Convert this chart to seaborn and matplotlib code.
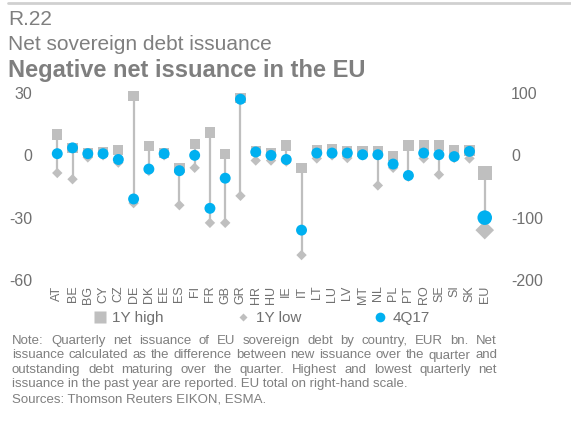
import numpy as np
import pandas as pd
import matplotlib
matplotlib.use("Agg")
import matplotlib.pyplot as plt
import seaborn as sns
from matplotlib.lines import Line2D

# net issuance, EUR bn (EU on right-hand scale)
countries = ["AT", "BE", "BG", "CY", "CZ", "DE", "DK", "EE", "ES", "FI", "FR", "GB", "GR", "HR",
             "HU", "IE", "IT", "LT", "LU", "LV", "MT", "NL", "PL", "PT", "RO", "SE", "SI", "SK"]
high_1y = [10, 3.5, 1, 1.6, 2.5, 28.5, 4.5, 1, -6, 5.6, 11, 0.7, 27.5, 2,
           1.2, 4.8, -6, 2.7, 3, 1.8, 1.8, 1.8, -0.3, 4.7, 4.7, 4.7, 2.3, 2.3]
low_1y = [-8.5, -11.5, -1, 0, -3.5, -23, -7.5, 0, -24, -6, -32.5, -32.5, -19.5, -2.5,
          -2.5, -3, -48, -1.5, 0, -1.3, 0, -14.5, -6, -10.3, -1.5, -9.3, -1.3, -1.5]
q4_17 = [0.8, 3.6, 0.8, 0.8, -2, -21, -6.6, 0.8, -7.4, 0, -25.5, -11, 27, 1.6,
         0, -2, -36, 1.1, 1.1, 1.1, 0.3, 0.3, -4.2, -9.7, 1.1, 0.3, -0.6, 1.9]
eu_label = "EU"
eu_high = -28
eu_low = -120
eu_q4_17 = -100

left_ticks = [-60, -30, 0, 30]
right_ticks = [-200, -100, 0, 100]

GREY = "#bfbfbf"
BLUE = "#00b0f0"
TEXT = "#7f7f7f"
TICK = "#707070"

sns.set_style("white")
plt.rcParams["font.family"] = ["Liberation Sans", "DejaVu Sans"]
plt.rcParams["axes.unicode_minus"] = False

df = pd.DataFrame({"pos": np.arange(len(countries)), "high": high_1y, "low": low_1y, "q417": q4_17})
eu = pd.DataFrame({"pos": [len(countries)], "high": [eu_high], "low": [eu_low], "q417": [eu_q4_17]})

W, H = 571, 421
fig = plt.figure(figsize=(W / 100, H / 100), dpi=100)
ax = fig.add_axes([42 / W, 1 - 280 / H, 458 / W, 187 / H])
ax2 = ax.twinx()

# country markers, left scale
ax.vlines(df["pos"], df["low"], df["high"], color=GREY, lw=1.6, zorder=1)
sns.scatterplot(data=df, x="pos", y="high", marker="s", s=55, color=GREY, edgecolor="none",
                ax=ax, zorder=2, clip_on=False)
sns.scatterplot(data=df, x="pos", y="low", marker="D", s=28, color=GREY, edgecolor="none",
                ax=ax, zorder=2, clip_on=False)
sns.scatterplot(data=df, x="pos", y="q417", marker="o", s=62, color=BLUE, edgecolor="none",
                ax=ax, zorder=3, clip_on=False)

# EU total, right scale
ax2.vlines(eu["pos"], eu["low"], eu["high"], color=GREY, lw=1.6, zorder=1)
sns.scatterplot(data=eu, x="pos", y="high", marker="s", s=100, color=GREY, edgecolor="none", ax=ax2, zorder=2)
sns.scatterplot(data=eu, x="pos", y="low", marker="D", s=90, color=GREY, edgecolor="none", ax=ax2, zorder=2)
sns.scatterplot(data=eu, x="pos", y="q417", marker="o", s=110, color=BLUE, edgecolor="none", ax=ax2, zorder=3)

ax.set_xlim(-1, len(countries) + 1)
ax.set_ylim(-60, 30)
ax2.set_ylim(-200, 100)
ax.set_yticks(left_ticks)
ax2.set_yticks(right_ticks)
ax.set_xticks(list(df["pos"]) + [len(countries)])
ax.set_xticklabels(countries + [eu_label], rotation=90, fontsize=9, color=TICK)
ax.tick_params(axis="y", length=0, pad=7, labelsize=11.5, labelcolor=TICK)
ax.tick_params(axis="x", length=0, pad=4)
ax2.tick_params(axis="y", length=0, pad=8, labelsize=11.5, labelcolor=TICK)
for a in (ax, ax2):
    a.set_xlabel("")
    a.set_ylabel("")
    for sp in a.spines.values():
        sp.set_visible(False)
    a.patch.set_alpha(0)

handles = [
    Line2D([], [], ls="none", marker="s", ms=8, color=GREY, mec="none"),
    Line2D([], [], ls="none", marker="D", ms=4, color=GREY, mec="none"),
    Line2D([], [], ls="none", marker="o", ms=7, color=BLUE, mec="none"),
]
fig.legend(handles, ["1Y high", "1Y low", "4Q17"], loc="center", bbox_to_anchor=(262 / W, 1 - 318 / H),
           ncol=3, frameon=False, fontsize=11, handlelength=0.8, handletextpad=0.4,
           columnspacing=4.8, labelcolor=TICK)

# header
fig.add_artist(Line2D([8 / W, 1], [1 - 3 / H, 1 - 3 / H], color="#d0d0d0", lw=2))
fig.text(8 / W, 1 - 25 / H, "R.22", fontsize=15, color=TEXT, va="baseline")
fig.text(8 / W, 1 - 50 / H, "Net sovereign debt issuance", fontsize=15, color=TEXT, va="baseline")
fig.text(8 / W, 1 - 77 / H, "Negative net issuance in the EU", fontsize=17, fontweight="bold",
         color=TEXT, va="baseline")

# footnote, first three lines justified
notes = [
    "Note: Quarterly net issuance of EU sovereign debt by country, EUR bn. Net",
    "issuance calculated as the difference between new issuance over the quarter and",
    "outstanding debt maturing over the quarter. Highest and lowest quarterly net",
    "issuance in the past year are reported. EU total on right-hand scale.",
    "Sources: Thomson Reuters EIKON, ESMA.",
]
baselines = [344, 358.5, 373, 387.5, 403]
renderer = fig.canvas.get_renderer()
x0, x1 = 12, 497
for i, (line, yb) in enumerate(zip(notes, baselines)):
    if i < 3:
        words = line.split(" ")
        texts = [fig.text(0, 1 - yb / H, w, fontsize=9.5, color=TEXT, va="baseline") for w in words]
        widths = [t.get_window_extent(renderer).width for t in texts]
        gap = (x1 - x0 - sum(widths)) / (len(words) - 1)
        x = x0
        for t, w in zip(texts, widths):
            t.set_x(x / W)
            x += w + gap
    else:
        fig.text(x0 / W, 1 - yb / H, line, fontsize=9.5, color=TEXT, va="baseline")

fig.savefig("out.png", dpi=100)
